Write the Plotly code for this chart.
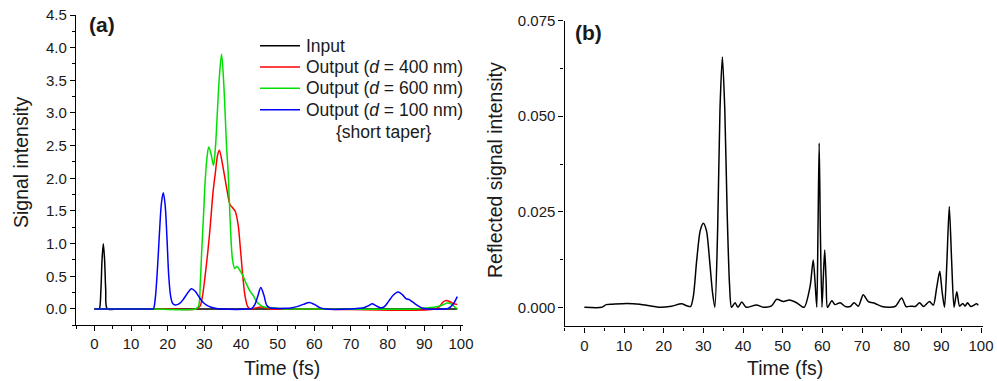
import plotly.graph_objects as go

# ---------------- data ----------------
# Panel (a): time (fs) and signal intensity
t_input = [0, 1.0, 1.35, 1.8, 2.1, 2.45, 2.8, 3.1, 3.55, 6.0, 99.0]
y_input = [0, 0, 0.0, 0.3, 0.75, 1.0, 0.75, 0.3, 0.0, 0, 0]

t_d400 = [0, 20.0, 27.6, 28.8, 29.5, 30.2, 31.0, 31.6, 32.4, 33.0, 33.6, 34.1, 35.0, 36.0, 37.0,
          37.7, 38.4, 39.2, 39.8, 40.5, 41.1, 41.8, 42.5, 43.5, 45.5, 47.0, 48.0, 60.0, 93.0,
          94.2, 95.2, 96.0, 97.0, 98.0, 99.0]
y_d400 = [0, 0, 0, 0.04, 0.2, 0.5, 0.9, 1.26, 1.8, 2.08, 2.35, 2.43, 2.2, 1.88, 1.6,
          1.55, 1.5, 1.3, 0.95, 0.5, 0.2, 0.04, 0, 0.01, 0.03, 0.01, 0, 0, 0,
          0.04, 0.11, 0.13, 0.11, 0.08, 0.07]

t_d600 = [0, 16.0, 27.6, 28.4, 28.9, 29.3, 29.8, 30.2, 30.7, 31.2, 31.8, 32.5, 33.0, 33.5, 34.1,
          34.7, 35.3, 36.1, 36.5, 37.0, 37.7, 38.3, 38.9, 39.6, 40.6, 41.5, 42.5, 43.4, 44.3,
          45.3, 46.3, 48.0, 50.0, 52.0, 60.0, 88.0, 91.0, 93.0, 95.0, 96.3, 97.5, 98.5, 99.0]
y_d600 = [0, 0, 0, 0.04, 0.4, 0.9, 1.45, 1.93, 2.3, 2.48, 2.38, 2.2, 2.45, 2.95, 3.55,
          3.9, 3.45, 2.45, 2.1, 1.41, 0.75, 0.62, 0.65, 0.6, 0.5, 0.38, 0.27, 0.2, 0.11,
          0.06, 0.03, 0.02, 0.01, 0, 0, 0, 0.02, 0.03, 0.06, 0.09, 0.07, 0.02, 0]

t_d100 = [0, 15.6, 16.1, 16.6, 17.2, 17.8, 18.3, 18.8, 19.3, 19.8, 20.3, 20.8, 21.3, 22.0, 23.2,
          24.3, 25.4, 26.5, 27.5, 28.5, 29.5, 30.6, 31.7, 33.0, 34.5, 42.0, 43.0, 43.8, 44.6,
          45.4, 46.2, 47.0, 47.8, 49.0, 52.0, 54.0, 55.5, 57.0, 58.6, 60.0, 61.5, 63.0, 70.0,
          72.0, 73.5, 74.8, 75.8, 76.8, 78.0, 79.0, 80.3, 81.5, 82.8, 84.0, 85.0, 86.0, 87.0,
          88.2, 89.5, 91.0, 95.0, 96.5, 97.8, 99.0]
y_d100 = [0, 0, 0, 0.15, 0.6, 1.2, 1.62, 1.78, 1.6, 1.1, 0.5, 0.2, 0.09, 0.06, 0.08,
          0.15, 0.24, 0.31, 0.27, 0.19, 0.11, 0.06, 0.03, 0.01, 0, 0, 0.01, 0.07, 0.2,
          0.33, 0.22, 0.06, 0.02, 0.01, 0.01, 0.02, 0.04, 0.07, 0.1, 0.07, 0.02, 0, 0,
          0.01, 0.02, 0.05, 0.08, 0.05, 0.02, 0.03, 0.12, 0.21, 0.26, 0.22, 0.16, 0.14, 0.1,
          0.05, 0.01, 0, 0, 0.01, 0.07, 0.19]

# Panel (b): reflected signal intensity
t_refl = [0, 4.4, 5.5, 7.0, 10.7, 14.0, 19.1, 22.0, 24.5, 25.8, 26.8, 27.5, 28.3, 29.2, 30.0,
          30.8, 31.6, 32.3, 32.9, 33.6, 34.2, 34.8, 35.4, 36.0, 36.6, 37.1, 38.0, 38.7, 39.7,
          40.8, 43.4, 45.1, 47.2, 48.5, 50.2, 51.7, 53.5, 55.4, 56.9, 57.7, 58.2, 58.6, 58.9,
          59.2, 59.5, 59.9, 60.25, 60.6, 60.95, 61.3, 62.4, 63.2, 64.5, 65.8, 67.0, 68.0, 69.1,
          70.3, 71.6, 73.3, 75.0, 78.3, 80.0, 81.1, 82.3, 83.4, 84.5, 85.5, 87.0, 88.0, 88.8,
          89.6, 90.2, 90.8, 91.4, 92.0, 92.6, 93.2, 93.9, 94.6, 95.4, 96.0, 96.6, 97.4, 98.9, 99.3]
y_refl = [0, 0, 0.0007, 0.0008, 0.001, 0.0008, 0, 0.0003, 0.0009, 0.0004, 0.0002, 0.003, 0.012, 0.02, 0.022,
          0.02, 0.012, 0.004, 0, 0.02, 0.052, 0.0655, 0.052, 0.025, 0.006, 0, 0.0012, 0, 0.0014,
          0, 0.0006, 0, 0.0004, 0.0021, 0.0015, 0.0019, 0.0012, 0, 0.0054, 0.0124, 0.006, 0, 0.02,
          0.043, 0.02, 0, 0.008, 0.015, 0.007, 0, 0.0017, 0.0007, 0.0012, 0.0002, 0.0002, 0.0012, 0.0003,
          0.0033, 0.0015, 0.001, 0.0002, 0.0002, 0.0024, 0.0002, 0.0003, 0.0002, 0.0012, 0.0002, 0.0015, 0.0006, 0.005,
          0.0094, 0.004, 0, 0.012, 0.0264, 0.012, 0, 0.0041, 0.0003, 0.001, 0.0003, 0.0012, 0.0002, 0.0009, 0.0005]

x_ticks = [0, 10, 20, 30, 40, 50, 60, 70, 80, 90, 100]

legend_names = ["Input", "Output (<i>d</i> = 400 nm)", "Output (<i>d</i> = 600 nm)",
                "Output (<i>d</i> = 100 nm)"]
legend_note = "{short taper}"
colors = ["#000000", "#ff0000", "#00e000", "#0000ff"]

# ---------------- figure ----------------
FONT = "Liberation Sans, Arial, sans-serif"
TXT = "#1a1a1a"
W, H = 997, 381

def px_x(p):
    return p / W

def px_y(p):
    return 1 - p / H

fig = go.Figure()

def add(x, y, name, color, xa="x", ya="y", smooth=0.9):
    fig.add_trace(go.Scatter(x=x, y=y, mode="lines", name=name, showlegend=False,
                             line=dict(color=color, width=1.5, shape="spline", smoothing=smooth),
                             xaxis=xa, yaxis=ya))

series = [(t_input, y_input), (t_d400, y_d400), (t_d600, y_d600), (t_d100, y_d100)]
for (tx, ty), nm, c in zip(series, legend_names, colors):
    add(tx, ty, nm, c)
add(t_refl, y_refl, "Reflected", "#000000", xa="x2", ya="y2", smooth=0.7)

axis_common = dict(showline=True, linecolor="black", linewidth=1.3, ticks="outside",
                   ticklen=5, tickwidth=1.2, tickcolor="black", showgrid=False, zeroline=False,
                   tickfont=dict(family=FONT, size=15, color=TXT), automargin=False)

fig.update_layout(
    width=W, height=H,
    margin=dict(l=0, r=0, t=0, b=0),
    paper_bgcolor="white", plot_bgcolor="white",
    font=dict(family=FONT, color=TXT),
    showlegend=False,
    xaxis=dict(domain=[px_x(76), px_x(462.8)], range=[-5, 100.5], tickvals=x_ticks,
               minor=dict(ticks="outside", dtick=5, tick0=0, ticklen=3, tickcolor="black"),
               anchor="y", **axis_common),
    yaxis=dict(domain=[px_y(325.3), px_y(15)], range=[-0.25, 4.5], tick0=0, dtick=0.5,
               tickformat=".1f",
               minor=dict(ticks="outside", dtick=0.25, tick0=0, ticklen=3, tickcolor="black"),
               anchor="x", **axis_common),
    xaxis2=dict(domain=[px_x(564.5), px_x(983)], range=[-5, 100.5], tickvals=x_ticks,
                minor=dict(ticks="outside", dtick=5, tick0=0, ticklen=3, tickcolor="black"),
                anchor="y2", **axis_common),
    yaxis2=dict(domain=[px_y(326.4), px_y(20.7)], range=[-0.005, 0.075], tick0=0, dtick=0.025,
                tickformat=".3f",
                minor=dict(ticks="outside", dtick=0.0125, tick0=0, ticklen=3, tickcolor="black"),
                anchor="x2", **axis_common),
)

ann = [
    dict(text="<b>(a)</b>", x=px_x(87), y=px_y(25), xanchor="left", yanchor="middle",
         font=dict(size=21)),
    dict(text="<b>(b)</b>", x=px_x(573), y=px_y(32), xanchor="left", yanchor="middle",
         font=dict(size=21)),
    dict(text="Signal intensity", x=px_x(21), y=px_y(163), xanchor="center", yanchor="middle",
         textangle=-90, font=dict(size=19.5)),
    dict(text="Reflected signal intensity", x=px_x(495), y=px_y(170), xanchor="center",
         yanchor="middle", textangle=-90, font=dict(size=19.5)),
    dict(text="Time (fs)", x=px_x(282), y=px_y(368), xanchor="center", yanchor="middle",
         font=dict(size=19.5)),
    dict(text="Time (fs)", x=px_x(785), y=px_y(368), xanchor="center", yanchor="middle",
         font=dict(size=19.5)),
]

# legend drawn as line samples + text rows
row_y = [45.7, 66.9, 88.3, 109.8]
shapes = []
for nm, c, ry in zip(legend_names, colors, row_y):
    shapes.append(dict(type="line", xref="paper", yref="paper",
                       x0=px_x(260), x1=px_x(300), y0=px_y(ry), y1=px_y(ry),
                       line=dict(color=c, width=1.5)))
    ann.append(dict(text=nm, x=px_x(304), y=px_y(ry), xanchor="left", yanchor="middle",
                    font=dict(size=17.5)))
ann.append(dict(text=legend_note, x=px_x(384), y=px_y(131.5), xanchor="center",
                yanchor="middle", font=dict(size=17.5)))

for a in ann:
    a.update(xref="paper", yref="paper", showarrow=False)
    a["font"].update(family=FONT, color=TXT)
fig.update_layout(annotations=ann, shapes=shapes)

fig.write_html("out.html")
